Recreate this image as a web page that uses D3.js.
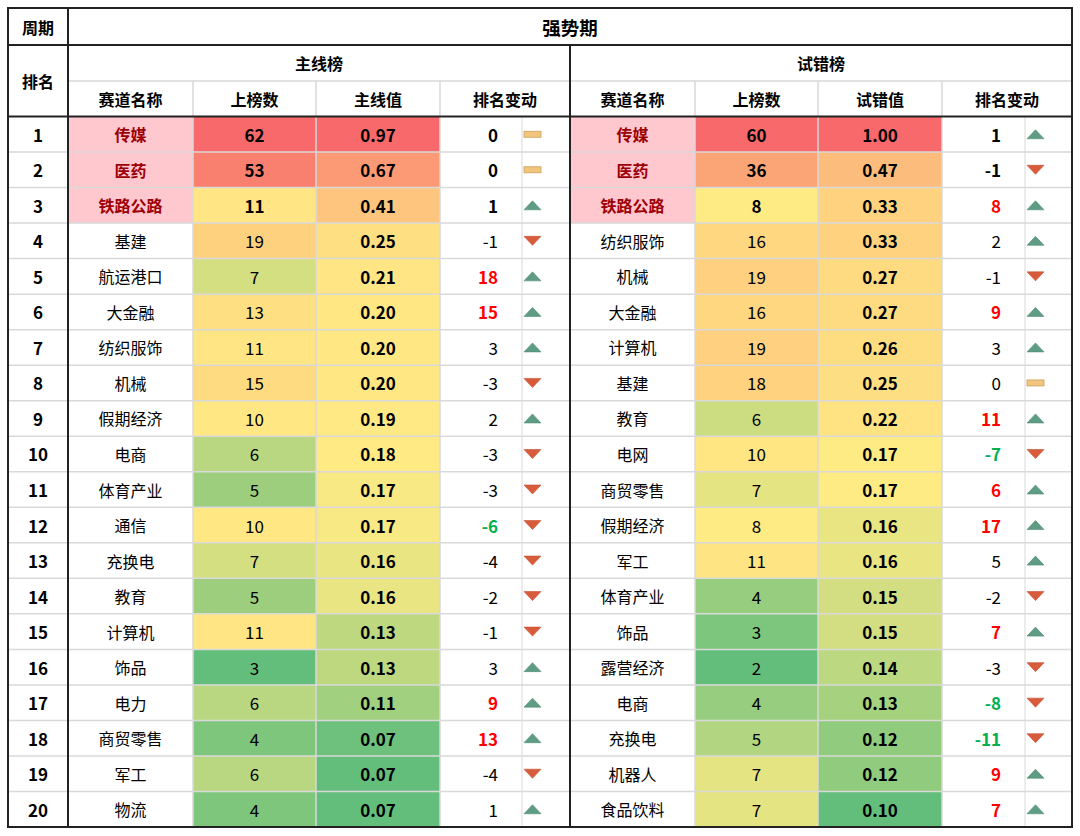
<!DOCTYPE html>
<html><head><meta charset="utf-8">
<script src="https://cdn.jsdelivr.net/npm/d3@7/dist/d3.min.js"></script>
<style>
body{margin:0;background:#fff}
svg{display:block}
text{font-family:"Noto Sans CJK SC","Microsoft YaHei",sans-serif;fill:#000}
</style>
</head><body>
<svg id="chart" width="1080" height="836"></svg>
<script>
// ---- data ----
const ranks = [1,2,3,4,5,6,7,8,9,10,11,12,13,14,15,16,17,18,19,20];
const mainNames = ["传媒","医药","铁路公路","基建","航运港口","大金融","纺织服饰","机械","假期经济","电商","体育产业","通信","充换电","教育","计算机","饰品","电力","商贸零售","军工","物流"];
const mainCounts = [62,53,11,19,7,13,11,15,10,6,5,10,7,5,11,3,6,4,6,4];
const mainValues = [0.97,0.67,0.41,0.25,0.21,0.20,0.20,0.20,0.19,0.18,0.17,0.17,0.16,0.16,0.13,0.13,0.11,0.074,0.068,0.067];
const mainChanges = [0,0,1,-1,18,15,3,-3,2,-3,-3,-6,-4,-2,-1,3,9,13,-4,1];
const trialNames = ["传媒","医药","铁路公路","纺织服饰","机械","大金融","计算机","基建","教育","电网","商贸零售","假期经济","军工","体育产业","饰品","露营经济","电商","充换电","机器人","食品饮料"];
const trialCounts = [60,36,8,16,19,16,19,18,6,10,7,8,11,4,3,2,4,5,7,7];
const trialValues = [1.00,0.47,0.33,0.33,0.27,0.27,0.26,0.25,0.22,0.17,0.17,0.16,0.16,0.15,0.15,0.14,0.13,0.12,0.12,0.10];
const trialChanges = [1,-1,8,2,-1,9,3,0,11,-7,6,17,5,-2,7,-3,-8,-11,9,7];
const titleText = "强势期";
const periodLabel = "周期";
const rankLabel = "排名";
const panelTitles = ["主线榜","试错榜"];
const colHeadersMain = ["赛道名称","上榜数","主线值","排名变动"];
const colHeadersTrial = ["赛道名称","上榜数","试错值","排名变动"];

// ---- layout ----
const svg = d3.select("#chart");
const L = 8, R = 1072, T = 8, B = 827;
const yTitle = [8,45], yPanel = [45,81], yHead = [81,116.5];
const y = d3.scaleBand().domain(ranks).range([116.5, B]);
const rankCol = [8,68];
const panels = [
  {title: panelTitles[0], heads: colHeadersMain, names: mainNames, counts: mainCounts, values: mainValues, changes: mainChanges,
   edges: [68,193,316,440,570], split: 522},
  {title: panelTitles[1], heads: colHeadersTrial, names: trialNames, counts: trialCounts, values: trialValues, changes: trialChanges,
   edges: [570,695,818,942,1072], split: 1025}
];

function heat(arr){
  const ext = d3.extent(arr), med = d3.median(arr);
  return d3.scaleLinear().domain([ext[0], med, ext[1]]).range(["#63BE7B","#FFEB84","#F8696B"]).interpolate(d3.interpolateRgb);
}

const gFill = svg.append("g"), gGrid = svg.append("g"), gThick = svg.append("g"), gText = svg.append("g"), gIcon = svg.append("g");

gFill.append("rect").attr("x",0).attr("y",0).attr("width",1080).attr("height",836).attr("fill","#fff");

panels.forEach(p => {
  const cScale = heat(p.counts), vScale = heat(p.values);
  const e = p.edges;
  // fills
  gFill.selectAll(null).data(ranks.filter(r => r <= 3)).join("rect")
    .attr("x", e[0]).attr("y", r => y(r)).attr("width", e[1]-e[0]).attr("height", y.bandwidth()).attr("fill","#FFC7CE");
  gFill.selectAll(null).data(ranks).join("rect")
    .attr("x", e[1]).attr("y", r => y(r)).attr("width", e[2]-e[1]).attr("height", y.bandwidth())
    .attr("fill", (r,i) => cScale(p.counts[i]));
  gFill.selectAll(null).data(ranks).join("rect")
    .attr("x", e[2]).attr("y", r => y(r)).attr("width", e[3]-e[2]).attr("height", y.bandwidth())
    .attr("fill", (r,i) => vScale(p.values[i]));

  // grid verticals
  [e[1],e[2],e[3]].forEach(x => {
    gGrid.append("line").attr("x1",x).attr("x2",x).attr("y1",yHead[0]).attr("y2",B).attr("stroke","#d9d9d9").attr("stroke-width",1.5);
  });
  gGrid.append("line").attr("x1",p.split).attr("x2",p.split).attr("y1",yHead[1]).attr("y2",B).attr("stroke","#e6e6e6").attr("stroke-width",1.5);

  // panel title & headers
  gText.append("text").attr("x",(e[0]+e[4])/2).attr("y",(yPanel[0]+yPanel[1])/2)
    .attr("text-anchor","middle").attr("dominant-baseline","central").attr("font-size",16).attr("font-weight",700).text(p.title);
  p.heads.forEach((h,i) => {
    gText.append("text").attr("x",(e[i]+e[i+1])/2).attr("y",(yHead[0]+yHead[1])/2)
      .attr("text-anchor","middle").attr("dominant-baseline","central").attr("font-size",16).attr("font-weight",700).text(h);
  });

  // data text
  const cy = r => y(r) + y.bandwidth()/2;
  gText.selectAll(null).data(ranks).join("text")
    .attr("x",(e[0]+e[1])/2).attr("y",cy).attr("text-anchor","middle").attr("dominant-baseline","central")
    .attr("font-size",16).attr("font-weight", r => r<=3 ? 700 : 400)
    .style("fill", r => r<=3 ? "#9C0006" : "#000")
    .text((r,i) => p.names[i]);
  gText.selectAll(null).data(ranks).join("text")
    .attr("x",(e[1]+e[2])/2).attr("y",cy).attr("text-anchor","middle").attr("dominant-baseline","central")
    .attr("font-size",17).attr("font-weight", r => r<=3 ? 700 : 400)
    .text((r,i) => p.counts[i]);
  gText.selectAll(null).data(ranks).join("text")
    .attr("x",(e[2]+e[3])/2).attr("y",cy).attr("text-anchor","middle").attr("dominant-baseline","central")
    .attr("font-size",17).attr("font-weight",700)
    .text((r,i) => d3.format(".2f")(p.values[i]));
  gText.selectAll(null).data(ranks).join("text")
    .attr("x",p.split-24).attr("y",cy).attr("text-anchor","end").attr("dominant-baseline","central")
    .attr("font-size",17)
    .attr("font-weight",(r,i) => (r<=3 || Math.abs(p.changes[i])>=6) ? 700 : 400)
    .style("fill",(r,i) => p.changes[i]>=6 ? "#FF0000" : (p.changes[i]<=-6 ? "#00B050" : "#000"))
    .text((r,i) => p.changes[i]);

  // icons
  const ix = p.split + 10.5;
  ranks.forEach((r,i) => {
    const c = cy(r), v = p.changes[i];
    if (v > 0) {
      gIcon.append("path").attr("d",`M${ix-8.5},${c+4.5}L${ix+8.5},${c+4.5}L${ix},${c-4.5}Z`)
        .attr("fill","#5E9C84").attr("stroke","#4F8C74").attr("stroke-width",0.6);
    } else if (v < 0) {
      gIcon.append("path").attr("d",`M${ix-8.5},${c-4.5}L${ix+8.5},${c-4.5}L${ix},${c+4.5}Z`)
        .attr("fill","#D85C3C").attr("stroke","#C24E30").attr("stroke-width",0.6);
    } else {
      gIcon.append("rect").attr("x",ix-8.5).attr("y",c-3).attr("width",17).attr("height",6)
        .attr("fill","#F3C57C").attr("stroke","#C9A05C").attr("stroke-width",0.8);
    }
  });
});

// row lines
ranks.slice(0,-1).forEach(r => {
  const yy = y(r) + y.bandwidth();
  gGrid.append("line").attr("x1",L).attr("x2",R).attr("y1",yy).attr("y2",yy).attr("stroke","#d9d9d9").attr("stroke-width",1.5);
});
gGrid.append("line").attr("x1",68).attr("x2",R).attr("y1",yPanel[1]).attr("y2",yPanel[1]).attr("stroke","#d9d9d9").attr("stroke-width",1.5);

// thick borders
const thick = (x1,y1,x2,y2) => gThick.append("line").attr("x1",x1).attr("y1",y1).attr("x2",x2).attr("y2",y2)
  .attr("stroke","#222").attr("stroke-width",2);
gThick.append("rect").attr("x",L).attr("y",T).attr("width",R-L).attr("height",B-T).attr("fill","none").attr("stroke","#222").attr("stroke-width",2);
thick(L,yTitle[1],R,yTitle[1]);
thick(L,yHead[1],R,yHead[1]);
thick(rankCol[1],T,rankCol[1],B);
thick(570,yTitle[1],570,B);

// header texts
gText.append("text").attr("x",(rankCol[0]+rankCol[1])/2).attr("y",(yTitle[0]+yTitle[1])/2)
  .attr("text-anchor","middle").attr("dominant-baseline","central").attr("font-size",16).attr("font-weight",700).text(periodLabel);
gText.append("text").attr("x",(68+R)/2).attr("y",(yTitle[0]+yTitle[1])/2)
  .attr("text-anchor","middle").attr("dominant-baseline","central").attr("font-size",18.5).attr("font-weight",700).text(titleText);
gText.append("text").attr("x",(rankCol[0]+rankCol[1])/2).attr("y",(yPanel[0]+yHead[1])/2)
  .attr("text-anchor","middle").attr("dominant-baseline","central").attr("font-size",16).attr("font-weight",700).text(rankLabel);
gText.selectAll(null).data(ranks).join("text")
  .attr("x",(rankCol[0]+rankCol[1])/2).attr("y",r => y(r)+y.bandwidth()/2)
  .attr("text-anchor","middle").attr("dominant-baseline","central").attr("font-size",17).attr("font-weight",700)
  .text(r => r);
</script>
</body></html>
